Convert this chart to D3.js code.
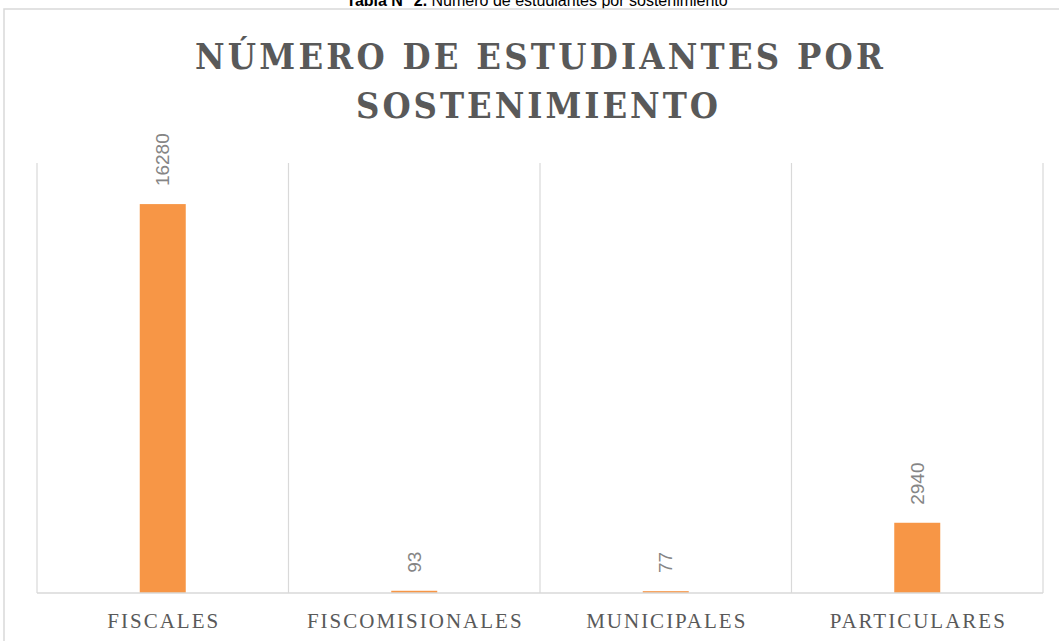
<!DOCTYPE html>
<html>
<head>
<meta charset="utf-8">
<script src="https://cdn.jsdelivr.net/npm/d3@7"></script>
<style>
body { margin: 0; background: #fff; }
</style>
</head>
<body>
<div></div>
<script>
const width = 1059, height = 641

// data
const categories = ["FISCALES", "FISCOMISIONALES", "MUNICIPALES", "PARTICULARES"]
const values = [16280, 93, 77, 2940]
const titleLines = ["NÚMERO DE ESTUDIANTES POR", "SOSTENIMIENTO"]
const captionBold = "Tabla N° 2."
const captionText = " Número de estudiantes por sostenimiento"

// settings
const barColor = "#f79646"
const lineColor = "#d9d9d9"
const textGray = "#595959"
const labelGray = "#858585"
const serif = "'Liberation Serif', 'DejaVu Serif', serif"
const titleFont = "'DejaVu Serif Condensed', 'DejaVu Serif', serif"
const sans = "'Liberation Sans', Arial, sans-serif"

const svg = d3.select("div")
  .append("svg")
  .attr("xmlns", "http://www.w3.org/2000/svg")
  .attr("width", width)
  .attr("height", height)

// plot area
const plot = {left: 37, right: 1043, top: 163, bottom: 593}
const x = d3.scaleBand().domain(categories).range([plot.left, plot.right]).padding(0)
const y = d3.scaleLinear().domain([0, 18000]).range([plot.bottom, plot.top])
const barW = 46

// caption above the chart box (cut off at the top)
const cap = svg.append("text")
  .attr("x", 537)
  .attr("y", 6)
  .attr("text-anchor", "middle")
  .attr("font-family", sans)
  .attr("font-size", 16)
  .attr("fill", "#000")
cap.append("tspan").attr("font-weight", "bold").text(captionBold)
cap.append("tspan").text(captionText)

// chart box border (right and bottom fall outside the picture)
svg.append("rect")
  .attr("x", 4).attr("y", 9)
  .attr("width", 1070).attr("height", 660)
  .attr("fill", "none")
  .attr("stroke", lineColor)
  .attr("stroke-width", 1.5)

// title
const titleWidths = [688, 362]
svg.selectAll(".title").data(titleLines).enter().append("text")
  .attr("x", (d, i) => i == 0 ? 539 : 537)
  .attr("y", (d, i) => 69 + i*49)
  .attr("text-anchor", "middle")
  .attr("font-family", titleFont)
  .attr("font-weight", "bold")
  .attr("font-size", 36)
  .attr("textLength", (d, i) => titleWidths[i])
  .attr("lengthAdjust", "spacing")
  .attr("fill", textGray)
  .text(d => d)

// vertical category gridlines
const gridX = categories.map(c => x(c)).concat([plot.right])
svg.selectAll(".grid").data(gridX).enter().append("line")
  .attr("x1", d => d).attr("x2", d => d)
  .attr("y1", plot.top).attr("y2", plot.bottom)
  .attr("stroke", lineColor)
  .attr("stroke-width", 1.2)

// bars
svg.selectAll(".bar").data(values).enter().append("rect")
  .attr("x", (d, i) => x(categories[i]) + x.bandwidth()/2 - barW/2)
  .attr("y", d => y(d))
  .attr("width", barW)
  .attr("height", d => Math.max(1.5, plot.bottom - y(d)))
  .attr("fill", barColor)

// axis line
svg.append("line")
  .attr("x1", plot.left).attr("x2", plot.right)
  .attr("y1", plot.bottom).attr("y2", plot.bottom)
  .attr("stroke", lineColor)
  .attr("stroke-width", 1.5)

// value labels, rotated
svg.selectAll(".val").data(values).enter().append("text")
  .attr("transform", (d, i) => `translate(${x(categories[i]) + x.bandwidth()/2},${Math.min(y(d), plot.bottom - 2) - 18}) rotate(-90)`)
  .attr("dy", "0.35em")
  .attr("text-anchor", "start")
  .attr("font-family", sans)
  .attr("font-size", 19)
  .attr("fill", labelGray)
  .text(d => d)

// category labels
svg.selectAll(".cat").data(categories).enter().append("text")
  .attr("x", d => x(d) + x.bandwidth()/2 + 1)
  .attr("y", 628)
  .attr("text-anchor", "middle")
  .attr("font-family", serif)
  .attr("font-size", 21)
  .attr("letter-spacing", 2)
  .attr("fill", textGray)
  .text(d => d)
</script>
</body>
</html>
